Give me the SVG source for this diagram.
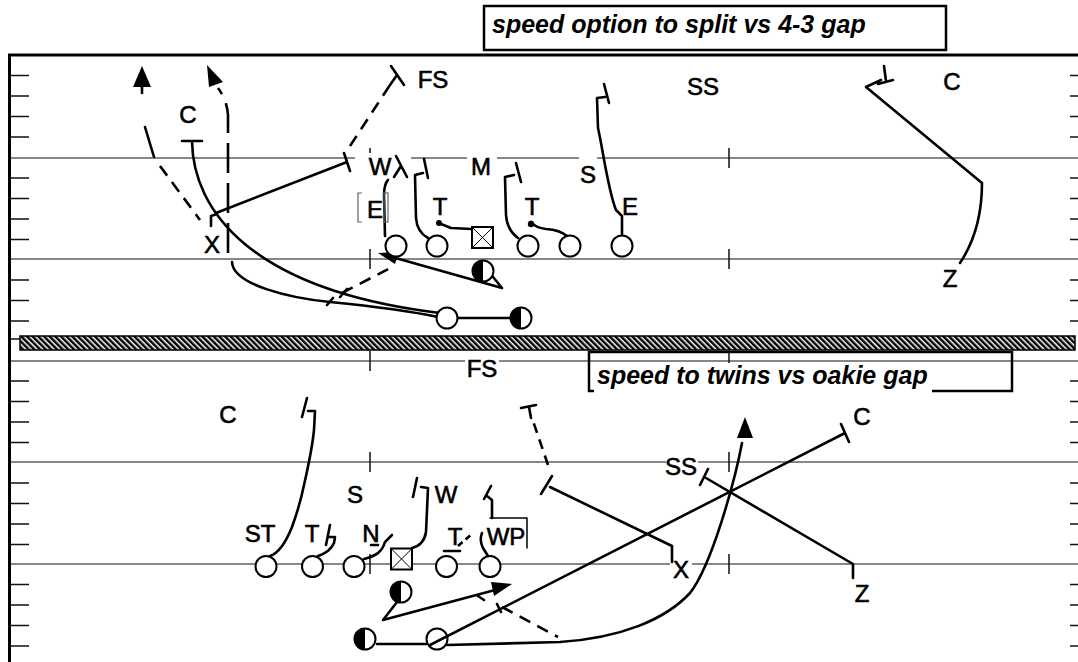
<svg xmlns="http://www.w3.org/2000/svg" width="1078" height="662" viewBox="0 0 1078 662">
<style>
.fl{stroke:#111;stroke-width:1.2;fill:none}
.bd{stroke:#000;stroke-width:3;fill:none}
.tk{stroke:#111;stroke-width:1.5;fill:none}
.r{stroke:#000;stroke-width:2.6;fill:none;stroke-linecap:round;stroke-linejoin:round}
.d{stroke:#000;stroke-width:2.6;fill:none;stroke-dasharray:12 8}
.o{fill:#fff;stroke:#000;stroke-width:2}
.f{fill:#000}
.lb{font-family:"Liberation Sans",Arial,sans-serif;font-size:24px;fill:#000;stroke:#000;stroke-width:0.6;text-anchor:middle}
.tt{font-family:"Liberation Sans",Arial,sans-serif;font-size:25px;font-weight:bold;font-style:italic;fill:#000}
.bg{fill:#fff}
.gr{stroke:#666;stroke-width:1.2;fill:none}
</style>
<defs>
<pattern id="hatch" width="4" height="4" patternUnits="userSpaceOnUse" patternTransform="rotate(-45)">
<rect width="4" height="4" fill="#fff"/>
<rect width="2.5" height="4" fill="#000"/>
</pattern>
</defs>
<rect width="1078" height="662" fill="#fff"/>
<g id="field">
<path class="fl" d="M9,158H1078M9,259H1078M9,361H1078M9,462H1078M9,564H1078"/>
<path class="tk" d="M9,75.5H29M9,96H29M9,116.5H29M9,137H29M9,178H29M9,198.5H29M9,219H29M9,239.5H29M9,280H29M9,300.5H29M9,321H29M9,339H20M9,381H29M9,401.5H29M9,422H29M9,442.5H29M9,483H29M9,503.5H29M9,524H29M9,544.5H29M9,584.5H29M9,605H29M9,625.5H29M9,646H29"/>
<path class="tk" d="M1070,75.5H1078M1070,96H1078M1070,116.5H1078M1070,137H1078M1070,178H1078M1070,198.5H1078M1070,219H1078M1070,239.5H1078M1070,280H1078M1070,300.5H1078M1070,321H1078M1070,381H1078M1070,401.5H1078M1070,422H1078M1070,442.5H1078M1070,483H1078M1070,503.5H1078M1070,524H1078M1070,544.5H1078M1070,584.5H1078M1070,605H1078M1070,625.5H1078M1070,646H1078"/>
<path class="tk" d="M370,148V168M729,148V168M370,249V269M729,249V269M370,351V371M729,351V371M370,452V472M729,452V472M370,554V574M729,554V574"/>
<rect x="20" y="336" width="1055" height="14" fill="url(#hatch)" stroke="#000" stroke-width="1.5"/>
<path class="bd" d="M9.5,662V55H1078"/>
</g>
<g id="title-top">
<rect x="484" y="6" width="462" height="44" fill="#fff" stroke="#000" stroke-width="2.5"/>
<text class="tt" x="492" y="33">speed option to split vs 4-3 gap</text>
</g>
<g id="title-bottom">
<rect class="bg" x="591" y="363" width="419" height="27"/>
<path d="M594,391H589V352H1012V391H932" fill="none" stroke="#000" stroke-width="2.5"/>
<text class="tt" x="597" y="384">speed to twins vs oakie gap</text>
</g>
<g id="label-bgs">
<rect class="bg" x="355" y="153" width="56" height="26"/>
<rect class="bg" x="467" y="153" width="30" height="24"/>
<rect class="bg" x="579" y="153" width="18" height="32"/>
<rect class="bg" x="465" y="354" width="34" height="26"/>
<rect class="bg" x="666" y="455" width="32" height="23"/>
<rect class="bg" x="670" y="556" width="22" height="24"/>
</g>
<g id="connectors">
<path class="r" d="M142,93V85"/>
<polygon class="f" points="142,66 133,87 151,87"/>
<path class="r" d="M145,127L154,157"/>
<path class="d" d="M160,166L200,220"/>
<path class="d" d="M228,253V115Q227,100 218,88" style="stroke-dasharray:30 10"/>
<polygon class="f" points="207,65 209,87 223,82"/>
<path class="r" d="M232,262C233,285 290,298 330,302C370,306 410,311 438,317"/>
<path class="r" d="M327,305L333,298"/>
<path class="r" d="M182,141H202M192,141C193,210 250,290 440,313"/>
<path class="r" d="M340,297L347,289"/>
<path class="d" d="M342,293L394,266"/>
<path class="r" d="M211,226V216L217,214M216,213L347,162M344,153L350,171"/>
<path class="d" d="M350,146L392,82"/>
<path class="r" d="M391,66L404,85M397,75L390,85"/>
<path class="r" d="M385,236L384,196Q384,184 388,180"/>
<path class="r" d="M396,156L407,177M401,166L394,177"/>
<path class="r" d="M428,238Q417,232 416,218L415,175L423,173M424,159L428,178"/>
<path class="r" d="M472,229L451,228L441,224"/>
<circle class="f" cx="439" cy="223" r="3"/>
<path class="r" d="M518,238Q507,230 506,215L505,177L514,175M516,163L521,182"/>
<path class="r" d="M567,236Q560,230 546,229Q536,228 531,222"/>
<circle class="f" cx="531" cy="224" r="3.2"/>
<path class="r" d="M622,234V216L616,210C608,190 603,150 598,128L597,98L605,97M604,84L609,103"/>
<path class="r" d="M502,288L392,257M493,277L502,288"/>
<polygon class="f" points="378,253 399,252 395,264"/>
<path class="r" d="M458,318H510"/>
<path class="r" d="M960,263C974,242 982,215 982,183L866,87L881,80M884,66L886,81M878,84L893,80"/>
<path class="r" d="M270,556Q282,552 292,527Q300,505 304,485Q312,450 314,430L315,411L308,411M307,398L302,417"/>
<path class="r" d="M318,556Q330,552 334,543L335,537L328,537M330,525L326,545"/>
<path class="r" d="M364,559C376,556 382,552 385,542L392,535M371,545H378"/>
<path class="r" d="M412,548Q424,545 426,532L428,488L421,487M417,478L413,497"/>
<path class="r" d="M444,551H460"/>
<path class="d" d="M458,546L472,534" style="stroke-dasharray:6 4"/>
<path class="r" d="M488,556L483,548Q479,540 482,533"/>
<path class="r" d="M492,518V500L487,496M491,486L484,499"/>
<path class="r" d="M490,518H527V548" style="stroke-width:1.5"/>
<path class="r" d="M672,562V546L550,487M541,494L552,476"/>
<path class="d" d="M548,465L532,418" style="stroke-dasharray:10 7"/>
<path class="r" d="M521,408L536,405M529,407L531,418"/>
<path class="r" d="M853,578V564L706,478M700,485L708,469"/>
<path class="r" d="M397,602L383,620L495,590M478,596L484,600"/>
<polygon class="f" points="512,584 491,582 494,596"/>
<path class="r" d="M430,645L845,433M841,424L849,442M497,604L501,612"/>
<path class="d" d="M502,607L558,637"/>
<path class="r" d="M377,644H426M447,645L560,642C620,638 665,620 690,593C712,565 735,480 742,443"/>
<polygon class="f" points="745,417 737,438 753,438"/>
</g>
<g id="top-offense">
<g id="t-lt"><circle class="o" cx="396" cy="246" r="10.5"/></g>
<g id="t-lg"><circle class="o" cx="437" cy="246" r="10.5"/></g>
<g id="t-c"><rect class="o" x="472" y="227" width="21" height="21"/><path d="M472,227L493,248M493,227L472,248" stroke="#000" stroke-width="1"/></g>
<g id="t-rg"><circle class="o" cx="528" cy="246" r="10.5"/></g>
<g id="t-rt"><circle class="o" cx="570" cy="246" r="10.5"/></g>
<g id="t-te"><circle class="o" cx="622" cy="246" r="10.5"/></g>
<g id="t-qb"><circle class="o" cx="483" cy="271" r="10.5"/><path class="f" d="M483,260.5A10.5,10.5 0 0 0 483,281.5Z"/></g>
<g id="t-rb"><circle class="o" cx="447" cy="318" r="10.5"/></g>
<g id="t-fb"><circle class="o" cx="521" cy="318" r="10.5"/><path class="f" d="M521,307.5A10.5,10.5 0 0 0 521,328.5Z"/></g>
</g>
<g id="bottom-offense">
<g id="b-1"><circle class="o" cx="266" cy="566.5" r="10.5"/></g>
<g id="b-2"><circle class="o" cx="312.5" cy="566.5" r="10.5"/></g>
<g id="b-3"><circle class="o" cx="354" cy="566.5" r="10.5"/></g>
<g id="b-c"><rect class="o" x="391" y="548.5" width="21" height="21"/><path d="M391,548.5L412,569.5M412,548.5L391,569.5" stroke="#000" stroke-width="1"/></g>
<g id="b-5"><circle class="o" cx="446.5" cy="566.5" r="10.5"/></g>
<g id="b-6"><circle class="o" cx="490" cy="566.5" r="10.5"/></g>
<g id="b-qb"><circle class="o" cx="401" cy="592" r="10.5"/><path class="f" d="M401,581.5A10.5,10.5 0 0 0 401,602.5Z"/></g>
<g id="b-fb"><circle class="o" cx="365" cy="639" r="10.5"/><path class="f" d="M365,628.5A10.5,10.5 0 0 0 365,649.5Z"/></g>
<g id="b-rb"><circle cx="437" cy="639" r="10.5" fill="none" stroke="#000" stroke-width="2"/></g>
</g>
<g id="top-e-bracket"><path class="gr" d="M362,193H358V222H362"/><rect class="gr" x="384" y="193" width="4" height="29"/></g>
<g id="top-defense">
<text id="td-fs" class="lb" x="433" y="88">FS</text>
<text id="td-ss" class="lb" x="703" y="95">SS</text>
<text id="td-c2" class="lb" x="952" y="90">C</text>
<text id="td-c1" class="lb" x="188" y="123">C</text>
<text id="td-w" class="lb" x="380" y="175">W</text>
<text id="td-m" class="lb" x="481" y="175">M</text>
<text id="td-s" class="lb" x="588" y="183">S</text>
<text id="to-e1" class="lb" x="375" y="218">E</text>
<text id="td-t1" class="lb" x="440" y="215">T</text>
<text id="td-t2" class="lb" x="532" y="215">T</text>
<text id="td-e2" class="lb" x="630" y="215">E</text>
<text id="to-x" class="lb" x="212" y="253">X</text>
<text id="to-z" class="lb" x="950" y="287">Z</text>
</g>
<g id="bottom-defense">
<text id="bd-fs" class="lb" x="482" y="377">FS</text>
<text id="bd-c1" class="lb" x="228" y="423">C</text>
<text id="bd-s" class="lb" x="355" y="503">S</text>
<text id="bd-w" class="lb" x="446" y="503">W</text>
<text id="bd-st" class="lb" x="260" y="542">ST</text>
<text id="bd-t1" class="lb" x="312" y="542">T</text>
<text id="bd-n" class="lb" x="371" y="542">N</text>
<text id="bd-t2" class="lb" x="455" y="545">T</text>
<text id="bd-wp" class="lb" x="506" y="545">WP</text>
<text id="bd-ss" class="lb" x="681" y="475">SS</text>
<text id="bo-x" class="lb" x="681" y="578">X</text>
<text id="bd-c2" class="lb" x="862" y="425">C</text>
<text id="bo-z" class="lb" x="862" y="602">Z</text>
</g>
</svg>
